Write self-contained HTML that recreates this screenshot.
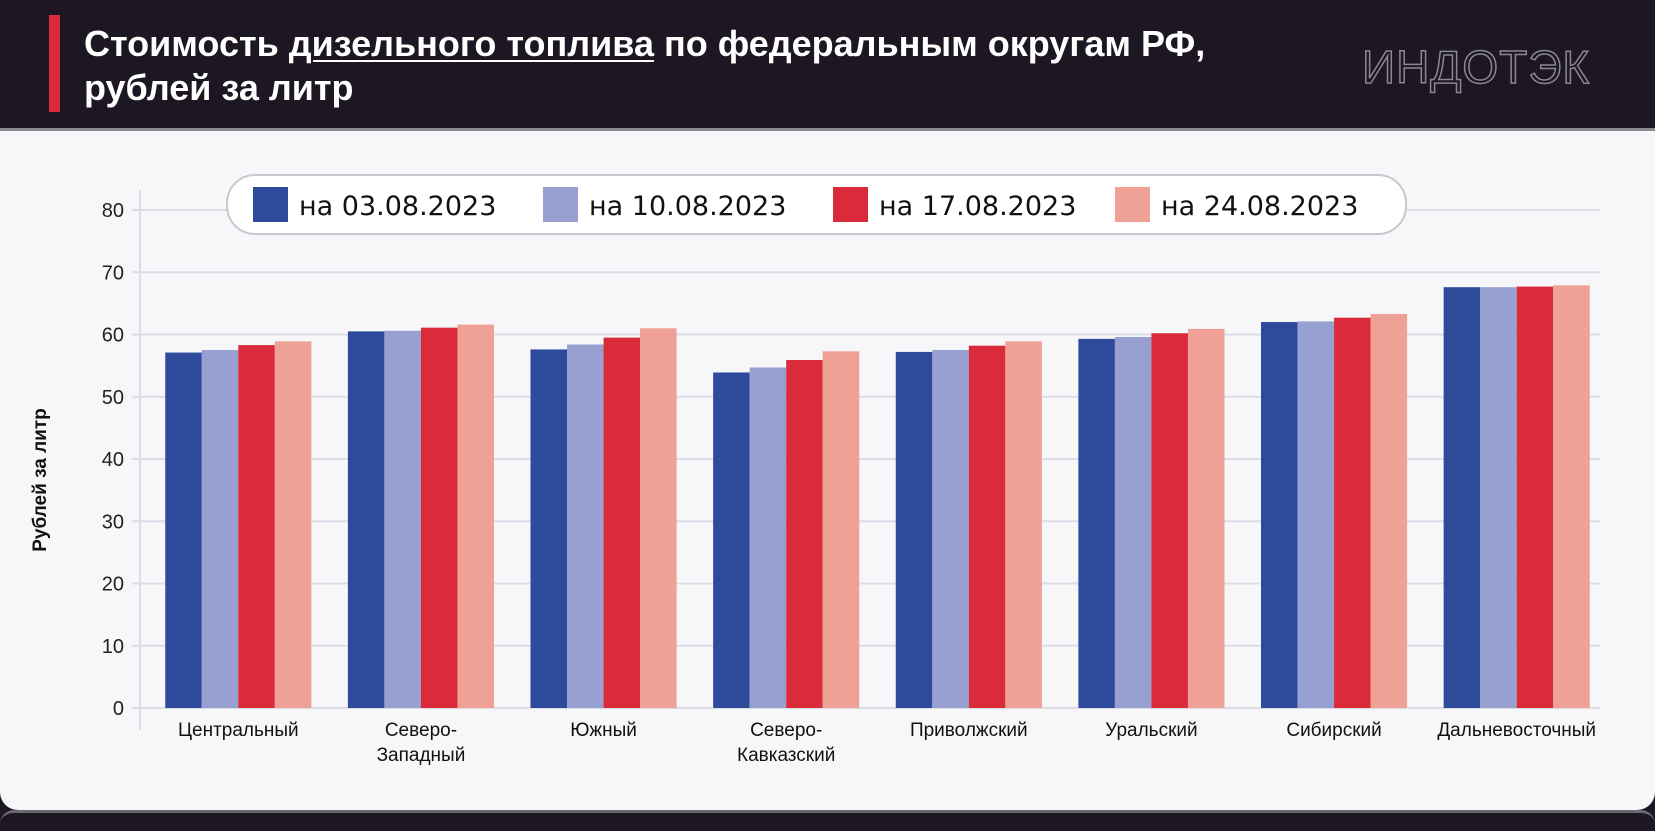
<!DOCTYPE html>
<html><head><meta charset="utf-8">
<style>
html,body{margin:0;padding:0;}
body{width:1655px;height:828px;background:#1c1722;position:relative;overflow:hidden;font-family:"Liberation Sans","DejaVu Sans",sans-serif;}
#panel{position:absolute;left:0;top:128px;width:1655px;height:682px;background:#f7f7fa;border-radius:0 0 18px 18px;border-top:3px solid #8a8890;box-sizing:border-box;}
#bottom{position:absolute;left:0;top:810px;width:1655px;height:18px;background:#1c1722;border-top:3px solid #6a6870;border-radius:14px 14px 0 0;}
#redbar{position:absolute;left:49px;top:15px;width:11px;height:97px;background:#d92b3a;}
#title{position:absolute;left:84px;top:22px;color:#fff;font-family:"Liberation Sans Narrow","Liberation Sans",sans-serif;font-weight:bold;font-size:36px;line-height:44px;}
#title u{text-decoration-thickness:2px;text-underline-offset:4px;}
svg{position:absolute;left:0;top:0;}
</style></head>
<body>
<div id="panel"></div>
<div id="bottom"></div>
<div id="redbar"></div>
<div id="title">Стоимость <u>дизельного топлива</u> по федеральным округам РФ,<br>рублей за литр</div>
<svg id="chart" width="1655" height="828">
<text x="1362" y="83" font-family="Liberation Sans Narrow, Liberation Sans, sans-serif" font-size="46" fill="none" stroke="#8a8890" stroke-width="1.5" letter-spacing="1">ИНДОТЭК</text>
</svg>
<script>
const categories=[["Центральный"],["Северо-","Западный"],["Южный"],["Северо-","Кавказский"],["Приволжский"],["Уральский"],["Сибирский"],["Дальневосточный"]];
const seriesNames=["на 03.08.2023","на 10.08.2023","на 17.08.2023","на 24.08.2023"];
const s1=[57.1,60.5,57.6,53.9,57.2,59.3,62.0,67.6];
const s2=[57.5,60.6,58.4,54.7,57.5,59.6,62.1,67.6];
const s3=[58.3,61.1,59.5,55.9,58.2,60.2,62.7,67.7];
const s4=[58.9,61.6,61.0,57.3,58.9,60.9,63.3,67.9];
const yTicks=[0,10,20,30,40,50,60,70,80];
const colors=["#2e4b9b","#97a0d0","#d92b3a","#eea194"];
const series=[s1,s2,s3,s4];
const NS="http://www.w3.org/2000/svg";
const svg=document.getElementById('chart');
const x0=147,x1=1608,y0=708,yTop=210,ymax=80;
const y=v=>y0-(v/ymax)*(y0-yTop);
const band=(x1-x0)/categories.length;
const bx=i=>x0+band*i+band/2;
function mk(t,a){const e=document.createElementNS(NS,t);for(const k in a)e.setAttribute(k,a[k]);svg.appendChild(e);return e;}
yTicks.forEach(t=>{
 const g=mk('line',{x1:132,x2:1600,y1:y(t),y2:y(t),stroke:'#dcdce8','stroke-width':2});
 
 
 const l=mk('text',{x:124,y:y(t)+7,'text-anchor':'end','font-size':20,fill:'#222'});
 l.textContent=t;
 
 
});
const ax=mk('line',{x1:140,x2:140,y1:190,y2:730,stroke:'#dcdce8','stroke-width':2});


const bw=band*0.8/4;
categories.forEach((c,i)=>{
 series.forEach((s,j)=>{
  const r=mk('rect',{x:bx(i)-2*bw+j*bw,y:y(s[i]),width:bw,height:y0-y(s[i]),fill:colors[j]});
  
  
 });
 c.forEach((ln,k)=>{
  const t=mk('text',{x:bx(i),y:736+k*25,'text-anchor':'middle','font-size':19,fill:'#111'});
  t.textContent=ln;
  
  
 });
});
const yt=mk('text',{x:0,y:0,transform:'translate(46,480) rotate(-90)','text-anchor':'middle','font-size':19,'font-weight':'bold',fill:'#111'});
yt.textContent='Рублей за литр';


const lb=mk('rect',{x:227,y:175,width:1179,height:59,rx:28,fill:'#fff',stroke:'#c8c8d0','stroke-width':2});


const lx=[253,543,833,1115];
seriesNames.forEach((n,j)=>{
 const sw=mk('rect',{x:lx[j],y:187,width:35,height:35,fill:colors[j]});
 
 
 const t=mk('text',{x:lx[j]+46,y:215,'font-size':27,'font-family':'DejaVu Sans, sans-serif',fill:'#111'});
 t.textContent=n;
 
 
});
</script>
</body></html>
